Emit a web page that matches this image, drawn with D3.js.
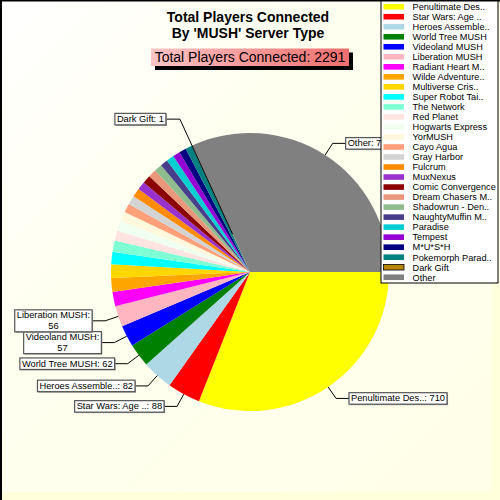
<!DOCTYPE html>
<html><head><meta charset="utf-8">
<script src="https://cdn.jsdelivr.net/npm/d3@7"></script>
<style>html,body{margin:0;padding:0;background:#fff}svg{display:block}</style>
</head><body>
<script>
const categories = ["Penultimate Des..","Star Wars: Age ..","Heroes Assemble..","World Tree MUSH","Videoland MUSH","Liberation MUSH","Radiant Heart M..","Wilde Adventure..","Multiverse Cris..","Super Robot Tai..","The Network","Red Planet","Hogwarts Express","YorMUSH","Cayo Agua","Gray Harbor","Fulcrum","MuxNexus","Comic Convergence","Dream Chasers M..","Shadowrun - Den..","NaughtyMuffin M..","Paradise","Tempest","M*U*S*H","Pokemorph Parad..","Dark Gift","Other"];
const values = [710,88,82,62,57,56,38,37,36,33,30,27,27,25,24,24,23,22,22,21,21,20,20,19,19,18,1,729];
const colors = ["#FFFF00","#FF0000","#ADD8E6","#008000","#0000FF","#FFB6C1","#FF00FF","#FFA500","#FFD700","#00FFFF","#7FFFD4","#FFE4E1","#F0FFF0","#FFF8DC","#FFA07A","#D3D3D3","#FF8C00","#9932CC","#8B0000","#E9967A","#8FBC8F","#483D8B","#00CED1","#9400D3","#000080","#008080","#B8860B","#808080"];
const labeled = ["Penultimate Des..","Star Wars: Age ..","Heroes Assemble..","World Tree MUSH","Videoland MUSH","Liberation MUSH","Dark Gift","Other"];
const wrapped = ["Videoland MUSH","Liberation MUSH"];
const titleLines = ["Total Players Connected","By 'MUSH' Server Type"];
const subtitle = "Total Players Connected: " + d3.sum(values);

const W = 500, H = 500;
const svg = d3.select("body").append("svg").attr("width", W).attr("height", H)
  .style("font-family", "Arial, 'Liberation Sans', sans-serif");
const defs = svg.append("defs");
const bg = defs.append("linearGradient").attr("id","bg").attr("x1","0").attr("y1","0").attr("x2","1").attr("y2","1");
bg.append("stop").attr("offset","0").attr("stop-color","#FFFFFF");
bg.append("stop").attr("offset","0.35").attr("stop-color","#FFFFF0");
bg.append("stop").attr("offset","1").attr("stop-color","#FFFFE8");
svg.append("rect").attr("width",W).attr("height",H).attr("fill","url(#bg)");
svg.append("rect").attr("x",492).attr("y",0).attr("width",8).attr("height",H).attr("fill","#FFFFDC");
svg.append("rect").attr("x",0).attr("y",492).attr("width",W).attr("height",8).attr("fill","#FFFFDC");
svg.append("rect").attr("x",0).attr("y",0).attr("width",2).attr("height",H).attr("fill","#000");
svg.append("rect").attr("x",0).attr("y",0).attr("width",W).attr("height",1.5).attr("fill","#000");

// title
svg.append("g").selectAll("text").data(titleLines).join("text")
  .attr("x", 248).attr("y", (d,i)=>22 + i*15.5).attr("text-anchor","middle")
  .attr("font-size", 14).attr("font-weight","bold").attr("fill","#000").text(d=>d);

// subtitle box
const sg = defs.append("linearGradient").attr("id","sub").attr("x1","0").attr("y1","0").attr("x2","1").attr("y2","0");
sg.append("stop").attr("offset","0").attr("stop-color","#FFC4C4");
sg.append("stop").attr("offset","1").attr("stop-color","#F06E6E");
const subW = 198, subH = 17.5, subX = 250 - subW/2, subY = 48.5;
svg.append("rect").attr("x",subX+4).attr("y",subY+4).attr("width",subW).attr("height",subH).attr("fill","#000");
svg.append("rect").attr("x",subX).attr("y",subY).attr("width",subW).attr("height",subH).attr("fill","url(#sub)");
svg.append("text").attr("x",250).attr("y",subY+13.5).attr("text-anchor","middle")
  .attr("font-size",14).attr("fill","#000").text(subtitle);

// pie
const cx = 250, cy = 272, R = 139;
const data = categories.map((c,i)=>({name:c, value:values[i], color:colors[i]}));
const pie = d3.pie().value(d=>d.value).sort(null).startAngle(Math.PI/2).endAngle(Math.PI/2 + 2*Math.PI);
const arcs = pie(data);
const arc = d3.arc().innerRadius(0).outerRadius(R);
const g = svg.append("g").attr("transform",`translate(${cx},${cy})`);
g.selectAll("path").data(arcs).join("path").attr("d",arc).attr("fill",d=>d.data.color);

// labels
const total = d3.sum(values);
const lg = g.append("g");
arcs.filter(a=>labeled.includes(a.data.name)).forEach(a=>{
  const mid = (a.startAngle + a.endAngle)/2;
  const sx = Math.sin(mid), sy = -Math.cos(mid);
  const tiny = a.data.value/total < 0.005;
  const r0 = tiny ? R*0.3 : R;
  const r1 = tiny ? R*1.21 : R*1.1;
  const ex = sx*r1, ey = sy*r1;
  const right = sx > 0;
  const gap = tiny ? 14 : 13;
  const lines = wrapped.includes(a.data.name) ? [a.data.name + ":", String(a.data.value)] : [a.data.name + ": " + a.data.value];
  const fs = 9.3, lh = 10.5;
  const tmp = lg.append("g");
  const txt = tmp.selectAll("text").data(lines).join("text").attr("font-size",fs).attr("fill","#000").text(d=>d);
  let tw = 0; txt.each(function(){ tw = Math.max(tw, this.getComputedTextLength()); });
  const bw = tw + 4, bh = lines.length*lh + 1;
  const bx = right ? ex + gap : ex - gap - bw;
  const by = ey - bh/2;
  lg.insert("line", ":first-child").attr("x1",sx*r0).attr("y1",sy*r0).attr("x2",ex).attr("y2",ey).attr("stroke","#000").attr("stroke-width",1);
  lg.insert("line", ":first-child").attr("x1",ex).attr("y1",ey).attr("x2",right?bx:bx+bw).attr("y2",ey).attr("stroke","#000").attr("stroke-width",1);
  tmp.insert("rect", ":first-child").attr("x",bx+1).attr("y",by+1).attr("width",bw).attr("height",bh).attr("fill","#999");
  tmp.insert("rect", "text").attr("x",bx).attr("y",by).attr("width",bw).attr("height",bh).attr("fill","#fff").attr("stroke","#555").attr("stroke-width",1.2);
  txt.attr("x", bx + bw/2).attr("text-anchor","middle").attr("y",(d,i)=>by + 8.6 + i*lh);
});

// legend
const LX = 381, LY = 1, LW = 117, LH = 282;
const leg = svg.append("g");
leg.append("rect").attr("x",LX).attr("y",LY).attr("width",LW).attr("height",LH).attr("fill","#fff").attr("stroke","#000").attr("stroke-width",1);
const rows = leg.selectAll("g.row").data(data).join("g").attr("class","row")
  .attr("transform",(d,i)=>`translate(0,${6.7 + i*10.02})`);
rows.append("rect").attr("x",383.5).attr("y",-2.8).attr("width",20.5).attr("height",5.6)
  .attr("fill",d=>d.color).attr("stroke",d=>d.name==="Dark Gift"?"#000":"none").attr("stroke-width",0.8);
rows.append("text").attr("x",412.5).attr("y",3.3).attr("font-size",9.2).attr("fill","#000").text(d=>d.name);
</script>
</body></html>
